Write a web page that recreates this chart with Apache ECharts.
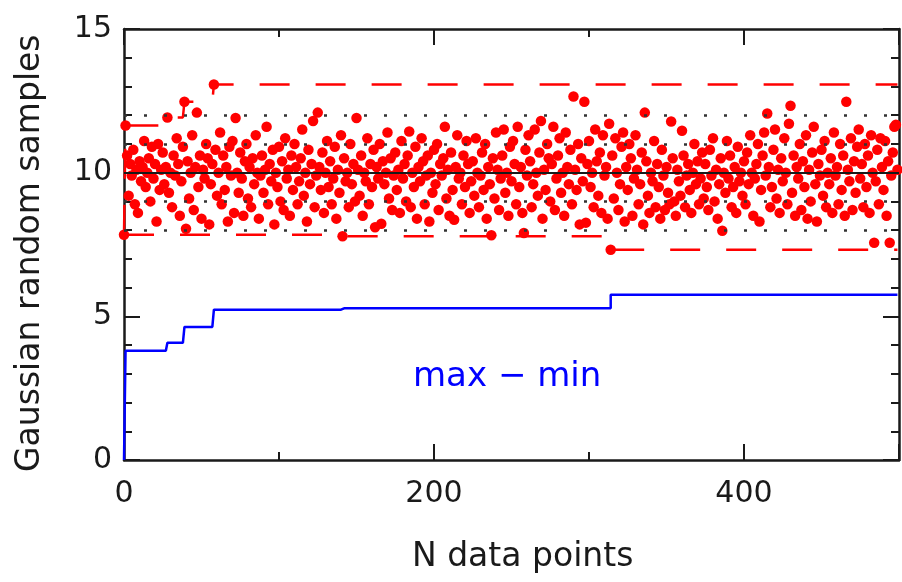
<!DOCTYPE html>
<html>
<head>
<meta charset="utf-8">
<title>Gaussian random samples</title>
<script src="https://cdn.jsdelivr.net/npm/echarts@6/dist/echarts.min.js"></script>
<style>
  html, body { margin: 0; padding: 0; background: #fff; }
  #chart { width: 902px; height: 582px; }
</style>
</head>
<body>
<div id="chart"></div>
<script>
// samples, 25 per row (index = N)
var samples = [
  7.84, 11.64, 10.6, 9.2, 10.3, 9.9, 10.8, 8.9, 10.1, 8.6, 10.4, 9.7, 10.2, 11.1, 9.5, 10.0, 10.5, 9.0, 10.9, 9.8, 10.3, 8.3, 11.0, 9.4, 10.1,
  10.7, 9.6, 10.2, 11.92, 9.3, 10.0, 8.8, 10.6, 9.9, 11.2, 10.3, 8.5, 9.7, 10.9, 12.47, 8.05, 10.4, 9.1, 10.0, 11.3, 8.7, 10.2, 12.09, 9.5, 10.6,
  8.4, 10.1, 9.8, 11.0, 10.5, 8.2, 9.6, 10.3, 13.07, 10.8, 9.2, 10.0, 11.4, 8.9, 10.6, 9.4, 10.2, 8.3, 10.9, 9.9, 11.1, 8.6, 11.9, 10.0, 9.3,
  10.7, 9.8, 8.5, 10.4, 11.0, 9.1, 10.2, 8.8, 10.5, 9.6, 11.3, 10.0, 8.4, 9.9, 10.6, 9.3, 10.1, 11.6, 8.9, 10.3, 9.7, 10.8, 8.2, 10.0, 9.5,
  10.9, 9.0, 10.4, 8.7, 11.2, 9.8, 10.1, 8.5, 10.6, 9.4, 11.0, 10.2, 8.9, 9.7, 10.5, 11.5, 9.2, 10.0, 8.3, 10.8, 9.6, 10.3, 11.8, 8.8, 9.9,
  12.09, 10.2, 9.4, 10.7, 8.6, 10.0, 11.1, 9.5, 10.4, 8.9, 9.8, 10.9, 8.4, 10.1, 9.3, 11.3, 7.79, 10.5, 9.7, 10.0, 8.8, 11.0, 9.6, 10.3, 9.0,
  11.9, 10.1, 9.2, 10.6, 8.5, 10.0, 9.7, 11.2, 8.9, 10.3, 9.5, 10.8, 8.1, 10.2, 9.8, 11.0, 8.22, 10.4, 9.6, 10.0, 11.4, 9.1, 10.5, 8.7, 9.9,
  10.7, 9.4, 10.1, 8.6, 11.1, 9.8, 10.3, 9.0, 10.6, 11.43, 8.8, 10.0, 9.5, 10.9, 8.4, 10.2, 9.7, 11.2, 10.4, 8.9, 9.9, 10.6, 8.3, 10.0, 9.3,
  10.8, 9.6, 11.0, 8.7, 10.3, 9.9, 10.5, 11.6, 9.1, 10.1, 8.5, 10.7, 9.4, 8.36, 10.2, 11.3, 9.8, 10.0, 8.9, 10.6, 9.5, 11.1, 10.3, 8.6, 9.7,
  10.4, 9.2, 11.2, 10.0, 8.8, 9.9, 10.7, 9.4, 11.0, 8.4, 10.2, 9.6, 7.82, 10.5, 9.1, 11.4, 10.1, 8.7, 9.8, 10.6, 11.5, 9.3, 10.0, 8.5, 10.9,
  9.7, 11.1, 10.3, 8.9, 11.6, 9.5, 10.2, 8.6, 7.9, 10.8, 9.9, 11.3, 10.4, 8.8, 9.6, 11.5, 10.0, 9.2, 10.7, 11.8, 8.4, 10.1, 9.4, 11.0, 10.5,
  9.0, 10.3, 11.6, 8.7, 9.8, 10.6, 11.2, 9.3, 10.0, 8.5, 11.4, 10.2, 9.6, 10.8, 8.9, 12.65, 10.1, 9.4, 11.0, 8.2, 10.5, 9.7, 12.47, 8.26, 10.3,
  11.1, 9.5, 10.0, 8.8, 11.5, 10.4, 9.2, 10.7, 8.6, 11.3, 9.9, 10.2, 8.4, 11.7, 7.32, 10.6, 9.1, 11.2, 10.0, 8.7, 9.6, 10.9, 11.4, 8.3, 10.2,
  9.4, 11.0, 10.5, 8.5, 9.8, 11.3, 10.1, 8.9, 9.6, 10.7, 8.2, 12.09, 10.4, 9.2, 8.6, 10.0, 9.7, 11.1, 8.8, 10.3, 9.5, 8.4, 10.8, 9.9, 8.7,
  10.2, 9.3, 8.9, 11.78, 10.5, 9.0, 8.5, 10.1, 9.7, 9.2, 11.46, 10.6, 8.8, 9.9, 10.3, 9.4, 8.6, 10.0, 11.0, 9.6, 10.4, 8.9, 9.8, 10.7, 9.1,
  10.3, 9.5, 8.7, 10.8, 9.9, 11.2, 9.0, 10.1, 8.4, 9.6, 10.5, 7.98, 10.0, 9.3, 11.1, 9.8, 10.6, 8.8, 9.5, 10.2, 8.6, 10.9, 9.7, 10.0, 9.2,
  10.4, 8.9, 10.7, 9.6, 11.3, 10.0, 8.5, 9.8, 10.3, 11.0, 8.3, 9.4, 10.6, 11.4, 9.9, 12.06, 10.2, 8.8, 9.5, 10.8, 11.5, 9.1, 10.1, 8.6, 10.5,
  9.7, 11.2, 10.0, 8.9, 11.7, 12.33, 9.3, 10.6, 8.5, 10.2, 9.8, 11.0, 8.7, 10.4, 9.5, 11.3, 8.4, 10.1, 9.0, 10.7, 11.6, 9.6, 8.3, 10.3, 9.9,
  10.8, 9.2, 11.1, 8.8, 10.0, 9.6, 10.5, 8.6, 11.4, 9.9, 10.2, 8.9, 11.0, 9.4, 10.6, 8.5, 12.47, 10.1, 9.7, 11.2, 8.7, 10.4, 9.3, 10.9, 11.5,
  9.8, 10.3, 8.8, 11.0, 9.5, 10.6, 8.6, 11.3, 10.0, 7.56, 9.7, 10.8, 8.9, 11.2, 10.2, 9.4, 11.1, 8.5, 10.4, 7.56, 9.9, 10.7, 11.6, 11.67, 10.1
];
var meanLevel = 10;
var sigmaLevels = [8, 9, 11, 12];
var xTickLabels = [0, 200, 400];

// running max / min and their difference
var pts = [], runMax = [], runMin = [], spread = [];
var hi = -Infinity, lo = Infinity;
samples.forEach(function (v, i) {
  hi = Math.max(hi, v);
  lo = Math.min(lo, v);
  pts.push([i, v]);
  runMax.push([i, hi]);
  runMin.push([i, lo]);
  spread.push([i, +(hi - lo).toFixed(3)]);
});

var ink = '#1a1a1a';
var font = 'DejaVu Sans';

function xAx(pos, interval, len, withLine, withLabel) {
  return {
    type: 'value', position: pos, min: 0, max: 500, interval: interval,
    axisLine: { show: withLine, onZero: false, lineStyle: { color: ink, width: 2.5 } },
    axisTick: { show: true, inside: true, length: len, lineStyle: { color: ink, width: 2 } },
    axisLabel: {
      show: withLabel, margin: 19, color: ink, fontFamily: font, fontSize: 30,
      formatter: function (v) { return xTickLabels.indexOf(v) >= 0 ? String(v) : ''; }
    },
    splitLine: { show: false }
  };
}

function yAx(pos, withLabel) {
  return {
    type: 'value', position: pos, min: 0, max: 15, interval: 5,
    axisLine: { show: true, onZero: false, lineStyle: { color: ink, width: 2.5 } },
    axisTick: { show: true, inside: true, length: 16, lineStyle: { color: ink, width: 2 } },
    minorTick: { show: true, splitNumber: 5, length: 8, lineStyle: { color: ink, width: 2 } },
    axisLabel: { show: withLabel, margin: 12, color: ink, fontFamily: font, fontSize: 30 },
    splitLine: { show: false }
  };
}

var chart = echarts.init(document.getElementById('chart'));
chart.setOption({
  animation: false,
  backgroundColor: '#fff',
  grid: { left: 124, right: 3, top: 29, bottom: 122, outerBoundsMode: 'none' },
  xAxis: [
    xAx('bottom', 100, 8, true, true),
    xAx('bottom', 200, 16, false, false),
    xAx('top', 100, 8, true, false),
    xAx('top', 200, 16, false, false)
  ],
  yAxis: [yAx('left', true), yAx('right', false)],
  graphic: [
    {
      type: 'text', left: 412, top: 541,
      style: { text: 'N data points', fill: ink, font: '33px "' + font + '"' }
    },
    {
      type: 'text', x: 14, y: 472, rotation: Math.PI / 2,
      style: { text: 'Gaussian random samples', fill: ink, font: '33px "' + font + '"' }
    },
    {
      type: 'text', left: 413, top: 360,
      style: { text: 'max \u2212 min', fill: '#0000ff', font: '34px "' + font + '"' }
    }
  ],
  series: [
    {
      type: 'line', data: [], silent: true,
      markLine: {
        symbol: 'none', silent: true, label: { show: false },
        data: sigmaLevels.map(function (v) {
          return { yAxis: v, lineStyle: { color: '#333', width: 2.5, type: [3, 17] } };
        }).concat([{ yAxis: meanLevel, lineStyle: { color: ink, width: 2, type: 'solid' } }])
      }
    },
    {
      name: 'max', type: 'line', step: 'end', data: runMax, showSymbol: false,
      lineStyle: { color: '#ff0000', width: 2.5, type: [30, 26] }
    },
    {
      name: 'min', type: 'line', step: 'end', data: runMin, showSymbol: false,
      lineStyle: { color: '#ff0000', width: 2.5, type: [30, 26] }
    },
    {
      name: 'max - min', type: 'line', step: 'end', data: spread, showSymbol: false,
      lineStyle: { color: '#0000ff', width: 2.5 }
    },
    {
      name: 'samples', type: 'scatter', data: pts, symbolSize: 10.5,
      itemStyle: { color: '#ff0000', opacity: 1 }
    }
  ]
});
</script>
</body>
</html>
